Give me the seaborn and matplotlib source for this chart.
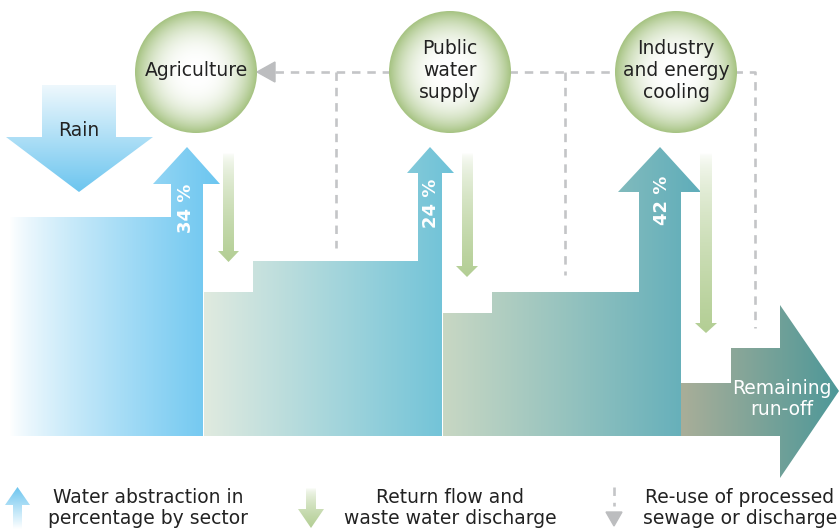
import numpy as np
import matplotlib
matplotlib.use("Agg")
import matplotlib.pyplot as plt
from matplotlib.patches import Polygon, Circle
import seaborn as sns

# ---------------- data ----------------
sectors = ["Agriculture", "Public\nwater\nsupply", "Industry\nand energy\ncooling"]
abstraction_pct = [34, 24, 42]
flow_labels = ["Rain", "Remaining\nrun-off"]
legend_labels = ["Water abstraction in\npercentage by sector",
                 "Return flow and\nwaste water discharge",
                 "Re-use of processed\nsewage or discharge"]

# ---------------- style ----------------
sns.set_theme(style="white")
plt.rcParams["font.family"] = ["DejaVu Sans"]

W, H = 839, 529
fig = plt.figure(figsize=(W / 100, H / 100), dpi=100)
ax = fig.add_axes([0, 0, 1, 1])
ax.set_axis_off()

TXT = "#222222"
GREY = "#C4C5C7"
FS = 13.5


def cmap(c1, c2):
    return sns.blend_palette([c1, c2], n_colors=256, as_cmap=True)


def grad_poly(pts, c1, c2, horizontal=True, power=1.0, z=2):
    pts = np.asarray(pts, float)
    poly = Polygon(pts, closed=True, facecolor="none", edgecolor="none", zorder=z)
    ax.add_patch(poly)
    x0, x1 = pts[:, 0].min(), pts[:, 0].max()
    y0, y1 = pts[:, 1].min(), pts[:, 1].max()
    v = np.linspace(0, 1, 256) ** power
    img = v[None, :] if horizontal else v[:, None]
    im = ax.imshow(img, cmap=cmap(c1, c2), extent=(x0, x1, y1, y0),
                   origin="upper", aspect="auto", zorder=z, interpolation="bilinear")
    im.set_clip_path(poly)


def grad_circle(cx, cy, r, z=3):
    circ = Circle((cx, cy), r, facecolor="none", edgecolor="none", zorder=z)
    ax.add_patch(circ)
    n = 200
    g = np.linspace(-1, 1, n)
    X, Y = np.meshgrid(g, g)
    R = np.clip(np.sqrt(X ** 2 + Y ** 2), 0, 1) ** 2.8
    im = ax.imshow(R, cmap=cmap("#FFFFFF", "#A6C382"),
                   extent=(cx - r, cx + r, cy + r, cy - r), origin="upper",
                   aspect="auto", zorder=z, interpolation="bilinear")
    im.set_clip_path(circ)


def down_arrow(xl, xr, top, hb, tip, hl, hr, c_top, c_bot, z=4):
    cx = (hl + hr) / 2
    pts = [(xl, top), (xr, top), (xr, hb), (hr, hb), (cx, tip), (hl, hb), (xl, hb)]
    grad_poly(pts, c_top, c_bot, horizontal=False, power=0.6, z=z)


# ---------------- rain ----------------
grad_poly([(42, 85), (116, 85), (116, 137), (153, 137), (79, 192), (6, 137), (42, 137)],
          "#EEF8FD", "#6CC5EF", horizontal=False)
ax.text(79, 131, flow_labels[0], ha="center", va="center", fontsize=FS, color=TXT, zorder=6)

# ---------------- flow blocks with abstraction arrows ----------------
blocks = [
    ([(10, 436), (10, 217), (171, 217), (171, 184), (153, 184), (187, 147), (220, 184),
      (203, 184), (203, 436)], "#FFFFFF", "#6CC6F0", 0.8),
    ([(204, 436), (204, 292), (253, 292), (253, 261), (418, 261), (418, 173), (407, 173),
      (430, 147), (454, 173), (442, 173), (442, 436)], "#E0EADF", "#6EC2D8", 1.0),
    ([(443, 436), (443, 313), (492, 313), (492, 292), (639, 292), (639, 192), (618, 192),
      (660, 147), (701, 192), (681, 192), (681, 436)], "#C8D7C3", "#5FADBA", 1.0),
    ([(681, 436), (681, 383), (731, 383), (731, 348), (780, 348), (780, 305), (839, 391),
      (780, 478), (780, 436)], "#A9AE99", "#4E9898", 1.0),
]
for pts, c1, c2, pw in blocks:
    grad_poly(pts, c1, c2, horizontal=True, power=pw)

pct_pos = [(186, 208), (431, 203), (662, 200)]
for (x, y), v in zip(pct_pos, abstraction_pct):
    ax.text(x, y, f"{v} %", rotation=90, ha="center", va="center", fontsize=13,
            fontweight="bold", color="white", zorder=6)

ax.text(782, 399, flow_labels[1], ha="center", va="center", fontsize=FS,
        color="white", linespacing=1.15, zorder=6)

# ---------------- return flow arrows ----------------
returns = [(223, 234, 153, 251, 262, 218, 239),
           (462, 473, 153, 266, 277, 456, 478),
           (700, 712, 153, 323, 333, 695, 717)]
for r in returns:
    down_arrow(*r, "#FFFFFF", "#B3CE94")

# ---------------- re-use dashed lines ----------------
dash = dict(color=GREY, lw=1.9, ls=(0, (3.2, 2.6)), zorder=1, solid_capstyle="butt")
ax.plot([275, 392], [72, 72], **dash)
ax.plot([509, 618], [72, 72], **dash)
ax.plot([734, 755, 755], [72, 72, 328], **dash)
ax.plot([336, 336], [72, 248], **dash)
ax.plot([565, 565], [72, 275], **dash)
ax.add_patch(Polygon([(257, 72), (275, 62), (275, 82)], closed=True, color="#BCBDBF", zorder=5))

# ---------------- sector circles ----------------
circle_x = [196, 450, 676]
for cx, name in zip(circle_x, sectors):
    grad_circle(cx, 72, 61)
    ax.text(cx, 71, name, ha="center", va="center", fontsize=FS, color=TXT,
            linespacing=1.2, zorder=6)

# ---------------- legend ----------------
grad_poly([(13, 529), (22, 529), (22, 505), (30, 505), (17.5, 487), (5, 505), (13, 505)],
          "#6CC5EF", "#FFFFFF", horizontal=False, power=1.0)
down_arrow(306, 316, 488, 509, 528, 298, 324, "#FFFFFF", "#B3CE94")
ax.plot([614, 614], [487, 506], **dash)
ax.add_patch(Polygon([(606, 512), (622, 512), (614, 526)], closed=True, color="#BCBDBF", zorder=5))

leg_x = [148, 450, 740]
for x, lab in zip(leg_x, legend_labels):
    ax.text(x, 508, lab, ha="center", va="center", fontsize=FS, color=TXT,
            linespacing=1.1, zorder=6)

ax.set_xlim(0, W)
ax.set_ylim(H, 0)
fig.savefig("out.png", dpi=100)
